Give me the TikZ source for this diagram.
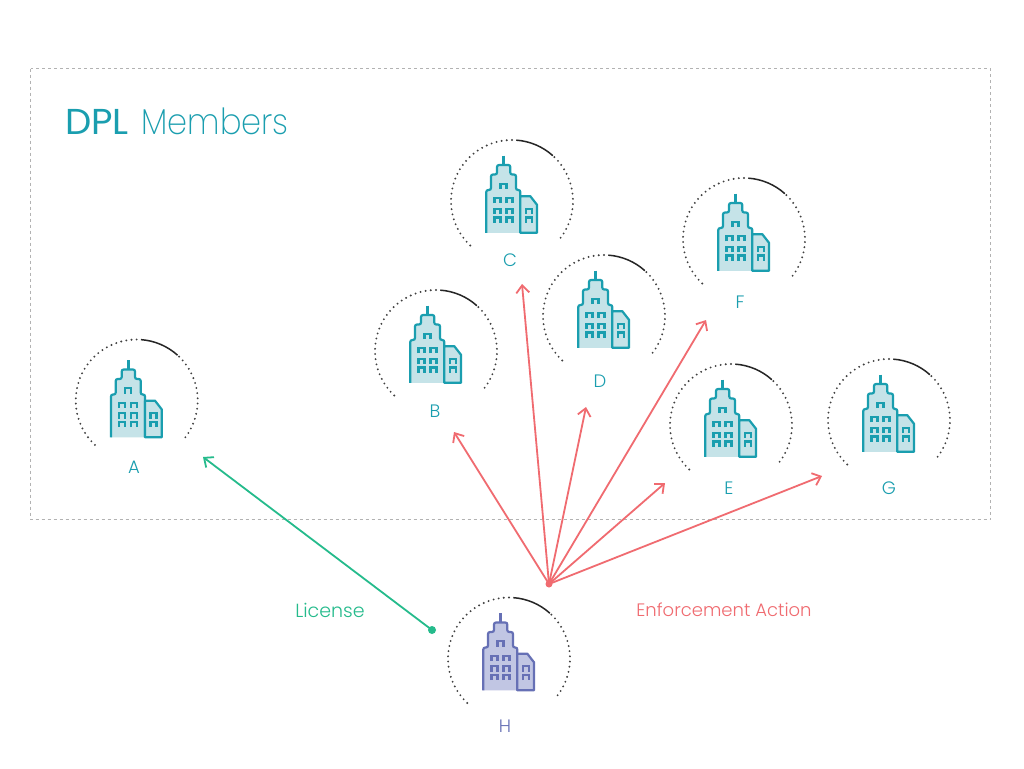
\documentclass[tikz,border=0pt]{standalone}
\usepackage{fontspec}
\setmainfont{Poppins Light}
\newfontfamily\titlefont{Poppins ExtraLight}[FakeStretch=0.89]
\newfontfamily\titlebold{Poppins}[FakeStretch=1.03]
\usetikzlibrary{arrows.meta}
\definecolor{teal}{HTML}{1A9EAF}
\definecolor{tealfill}{HTML}{C5E3E8}
\definecolor{violet}{HTML}{6670B5}
\definecolor{violetfill}{HTML}{C1C6E3}
\definecolor{salmon}{HTML}{F06B70}
\definecolor{mint}{HTML}{25BB8C}
\tikzset{
    ringdot/.style={line width=2.1pt,line cap=round,dash pattern=on 0pt off 5.2pt,color=black!75},
    ringarc/.style={line width=1.5pt,color=black!85},
    member/.style={text=teal,font=\fontsize{18}{20}\selectfont},
    enforce/.style={salmon,line width=1.8pt,-{Straight Barb[length=7.5pt,width=13pt]}},
    licence/.style={mint,line width=1.8pt,-{Straight Barb[length=7.5pt,width=13pt]}},
}
% ring and building, #1 centre, #2 line colour, #3 fill colour, #4 building lift
\newcommand{\tower}[4]{
    \draw[ringdot] (#1)++(-226.8:61) arc (-226.8:-90:61);
    \draw[ringarc] (#1)++(-86:61) arc (-86:-48:61);
    \draw[ringdot] (#1)++(-46:61) arc (-46:41:61);
    \begin{scope}[shift={(#1)},yshift=#4pt,line width=2.2pt,draw=#2,fill=#3]
    \draw[line width=2.8pt] (-8.4,-40.5) -- (-8.4,-31);
    \filldraw[rounded corners=2pt] (-25.7,36.8) -- (-25.7,-6) -- (-21,-6) -- (-21,-21.5) -- (-15,-21.5) -- (-15,-31) -- (-1.7,-31) -- (-1.7,-21.5) -- (4,-21.5) -- (4,-6) -- (8.3,-6) -- (8.3,36.8);
    \filldraw[line join=round] (8.3,36.8) -- (8.3,0.2) -- (18.3,0.2) -- (25,8.8) -- (25,36.8) -- cycle;
    \foreach \wx/\wy in {-8.4/-13.2,-14.4/1.2,-2.4/1.2,-14.4/11.8,-2.4/11.8,-14.4/20.5,-2.4/20.5,16.8/11.8,16.8/20.5}{
        \draw[line width=2.3pt] (\wx-3,\wy+6.2) |- (\wx+3,\wy+1) -- (\wx+3,\wy+6.2);
    }
    \end{scope}
}
\begin{document}
\begin{tikzpicture}[x=1pt,y=-1pt]
    \useasboundingbox (0,0) rectangle (1024,768);
    \fill[white] (0,0) rectangle (1024,768);
    \draw[black!30,line width=0.8pt,dash pattern=on 3pt off 3pt] (30.5,68.5) rectangle (990.5,519.5);
    \node[anchor=base west,inner sep=0pt,text=teal,font=\fontsize{36}{40}\selectfont] (title) at (65,134) {\titlebold DPL\hspace{12.5pt}\titlefont Members};

    \coordinate (ctrA) at (136.7,400.5);
    \coordinate (ctrB) at (436,351);
    \coordinate (ctrC) at (512,201);
    \coordinate (ctrD) at (604,316);
    \coordinate (ctrE) at (731,425);
    \coordinate (ctrF) at (744,239);
    \coordinate (ctrG) at (889,420);
    \coordinate (ctrH) at (509,658.5);
    \tower{ctrA}{teal}{tealfill}{0}
    \tower{ctrB}{teal}{tealfill}{5}
    \tower{ctrC}{teal}{tealfill}{5}
    \tower{ctrD}{teal}{tealfill}{5}
    \tower{ctrE}{teal}{tealfill}{5}
    \tower{ctrF}{teal}{tealfill}{5}
    \tower{ctrG}{teal}{tealfill}{5}
    \tower{ctrH}{violet}{violetfill}{5}

    \node[member] (A) at (134,467) {A};
    \node[member] (B) at (435,411) {B};
    \node[member] (C) at (510,260) {C};
    \node[member] (D) at (600,381) {D};
    \node[member] (E) at (729,488) {E};
    \node[member] (F) at (740,302) {F};
    \node[member] (G) at (889,488) {G};
    \node[member,text=violet] (H) at (505,726) {H};

    \node[font=\fontsize{19}{20}\selectfont,text=mint] (lic) at (330,610) {License};
    \node[font=\fontsize{18}{20}\selectfont,text=salmon] (act) at (724,610) {Enforcement Action};

    \coordinate (hub) at (549,584);
    \coordinate (src) at (432,630);
    \coordinate (toA) at (203,457);
    \coordinate (toB) at (454,432);
    \coordinate (toC) at (522,284);
    \coordinate (toD) at (586,407);
    \coordinate (toE) at (665,483);
    \coordinate (toF) at (706,320);
    \coordinate (toG) at (822,476);
    \foreach \t in {toB,toC,toD,toE,toF,toG}{
        \draw[enforce] (hub) -- (\t);
    }
    \fill[salmon] (hub) circle (3.5);
    \draw[licence] (src) -- (toA);
    \fill[mint] (src) circle (4);
\end{tikzpicture}
\end{document}
